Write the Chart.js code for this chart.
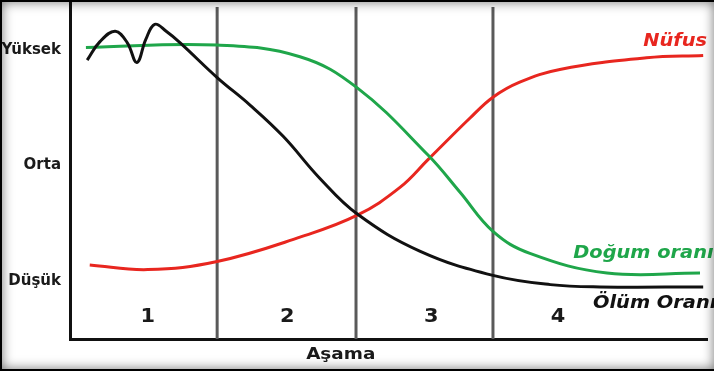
<!DOCTYPE html>
<html>
<head>
<meta charset="utf-8">
<script src="https://cdn.jsdelivr.net/npm/chart.js@4.4.1/dist/chart.umd.min.js"></script>
<style>
  html, body { margin: 0; padding: 0; background: #fff; }
  #wrap { position: relative; width: 714px; height: 371px; }
  #frame {
    position: absolute; left: 0; top: 0; width: 714px; height: 371px;
    box-sizing: border-box;
    border-top: 2px solid #000; border-left: 2px solid #000; border-bottom: 2px solid #000;
    box-shadow: inset 0 0 12px rgba(0, 0, 0, 0.55);
    pointer-events: none;
  }
</style>
</head>
<body>
<div id="wrap">
  <canvas id="chart" width="714" height="371"></canvas>
  <div id="frame"></div>
</div>
<script>
// x runs 0..100 along the time axis, y: 1 = Düşük, 2 = Orta, 3 = Yüksek
const levelValues = [1, 2, 3];
const levelLabels = ["Düşük", "Orta", "Yüksek"];
const stageNames = ["1", "2", "3", "4"];
const stageBounds = [23.1, 44.9, 66.4];
const stageLabelX = [12.2, 34.1, 56.7, 76.6];
const axisTitle = "Aşama";
const axisTitleX = 42.5;

const deathX = [2.7, 4.7, 7.1, 9.0, 10.5, 11.9, 13.3, 15.1, 17.3, 23.1, 28.3, 33.5, 39.2, 45.1, 54.9, 66.4, 75.4, 83.2, 99.4];
const deathY = [2.91, 3.07, 3.16, 3.06, 2.89, 3.09, 3.22, 3.16, 3.06, 2.76, 2.52, 2.25, 1.89, 1.58, 1.26, 1.05, 0.97, 0.95, 0.95];

const birthX = [2.5, 23.1, 36.1, 45.1, 56.2, 61.2, 66.4, 72.2, 84.3, 98.9];
const birthY = [3.02, 3.04, 2.94, 2.67, 2.09, 1.77, 1.43, 1.24, 1.07, 1.07];

const popX = [3.1, 12.2, 23.1, 36.1, 45.1, 51.8, 56.2, 62.8, 66.4, 70.6, 76.9, 90.5, 99.4];
const popY = [1.14, 1.10, 1.17, 1.38, 1.57, 1.81, 2.05, 2.41, 2.59, 2.72, 2.83, 2.93, 2.95];

const seriesNames = ["Nüfus", "Doğum oranı", "Ölüm Oranı"];
const seriesLabelX = [90.0, 79.0, 82.1];
const seriesLabelY = [3.07, 1.24, 0.81];

const RED = "#e8261f";
const GREEN = "#1fa64a";
const BLACK = "#111111";
const TEXT = "#1a1a1a";

function pts(xs, ys) {
  return xs.map((x, i) => ({ x: x, y: ys[i] }));
}

// the source picture is a bit stretched sideways, so text is widened
function wideText(ctx, text, x, y, stretch) {
  ctx.save();
  ctx.translate(x, y);
  ctx.scale(stretch, 1);
  ctx.fillText(text, 0, 0);
  ctx.restore();
}

const stagePlugin = {
  id: "stages",
  beforeDatasetsDraw(chart) {
    const { ctx, chartArea, scales } = chart;
    ctx.save();
    ctx.strokeStyle = "#5a5a5a";
    ctx.lineWidth = 3;
    stageBounds.forEach((b) => {
      const px = scales.x.getPixelForValue(b);
      ctx.beginPath();
      ctx.moveTo(px, chartArea.top + 7);
      ctx.lineTo(px, chartArea.bottom);
      ctx.stroke();
    });
    ctx.fillStyle = TEXT;
    ctx.font = "bold 19px 'DejaVu Sans'";
    ctx.textAlign = "center";
    ctx.textBaseline = "middle";
    stageNames.forEach((s, i) => {
      wideText(ctx, s, scales.x.getPixelForValue(stageLabelX[i]), chartArea.bottom - 22, 1.1);
    });
    ctx.font = "bold 16px 'DejaVu Sans'";
    wideText(ctx, axisTitle, scales.x.getPixelForValue(axisTitleX), chartArea.bottom + 16, 1.15);
    ctx.restore();
  },
  afterDatasetsDraw(chart) {
    const { ctx, scales } = chart;
    const colors = [RED, GREEN, BLACK];
    ctx.save();
    ctx.font = "italic bold 17px 'DejaVu Sans'";
    ctx.textAlign = "left";
    ctx.textBaseline = "middle";
    seriesNames.forEach((name, i) => {
      ctx.fillStyle = colors[i];
      wideText(ctx, name, scales.x.getPixelForValue(seriesLabelX[i]), scales.y.getPixelForValue(seriesLabelY[i]), 1.14);
    });
    ctx.restore();
  }
};

const line = (data, color) => ({
  data: data,
  borderColor: color,
  borderWidth: 3,
  pointRadius: 0,
  fill: false,
  tension: 0.4
});

new Chart(document.getElementById("chart"), {
  type: "line",
  data: {
    datasets: [
      line(pts(deathX, deathY), BLACK),
      line(pts(birthX, birthY), GREEN),
      line(pts(popX, popY), RED)
    ]
  },
  options: {
    responsive: false,
    animation: false,
    layout: { padding: { top: 0, right: 7, bottom: 0, left: 0 } },
    plugins: { legend: { display: false }, tooltip: { enabled: false } },
    scales: {
      x: {
        type: "linear",
        min: 0,
        max: 100,
        grid: { display: false },
        ticks: { display: false },
        border: { color: BLACK, width: 3 },
        afterFit(scale) {
          scale.height = 32;
          scale.paddingLeft = 0;
          scale.paddingRight = 0;
        }
      },
      y: {
        min: 0.5,
        max: 3.43,
        grid: { display: false, drawTicks: false },
        border: { color: BLACK, width: 3 },
        afterBuildTicks(scale) { scale.ticks = levelValues.map((v) => ({ value: v })); },
        ticks: {
          padding: 9,
          color: TEXT,
          font: { family: "DejaVu Sans", size: 15, weight: "bold" },
          callback: (v) => levelLabels[levelValues.indexOf(v)] || ""
        },
        afterFit(scale) {
          scale.width = 70;
          scale.paddingTop = 0;
          scale.paddingBottom = 0;
        }
      }
    }
  },
  plugins: [stagePlugin]
});
</script>
</body>
</html>
